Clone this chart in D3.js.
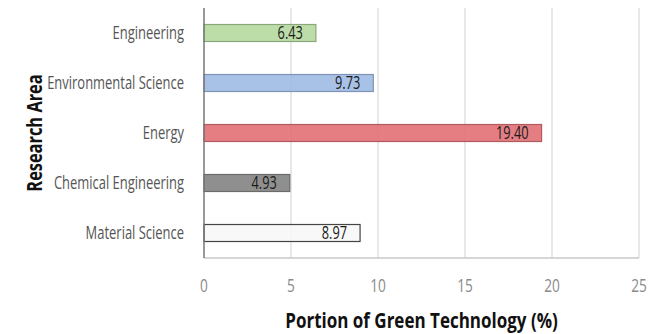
<!DOCTYPE html>
<html>
<head>
<meta charset="utf-8">
<script src="https://cdn.jsdelivr.net/npm/d3@7"></script>
<style>
  html, body { margin: 0; padding: 0; background: #fff; }
  svg { display: block; }
  text { font-family: "Open Sans", "Noto Sans", sans-serif; }
</style>
</head>
<body>
<svg id="chart" width="658" height="334"></svg>
<script>
// Research areas, top to bottom
const categories = ["Engineering", "Environmental Science", "Energy", "Chemical Engineering", "Material Science"];
// Portion of green technology per area (%)
const values = [6.43, 9.73, 19.40, 4.93, 8.97];
const fills = ["#b3d89c", "#9cb8e4", "#e06c72", "#808080", "#f7f7f7"];
const strokes = ["#8aa67a", "#7f93b5", "#b05a5e", "#6a6a6a", "#444444"];
const xTicks = [0, 5, 10, 15, 20, 25];

const svg = d3.select("#chart");
const margin = { left: 204, right: 19, top: 8, bottom: 76 };
const W = 658, H = 334;

const x = d3.scaleLinear().domain([0, 25]).range([margin.left, W - margin.right]);
const y = d3.scaleBand().domain(categories).range([margin.top, H - margin.bottom]).paddingInner(0.66).paddingOuter(0.33);

// condensed text helper: squeezes glyphs horizontally
function label(g, tx, ty, str, opts) {
  return g.append("text")
    .attr("transform", `translate(${tx},${ty})${opts.rotate ? " rotate(" + opts.rotate + ")" : ""} scale(${opts.narrow || 0.72},1)`)
    .attr("text-anchor", opts.anchor || "start")
    .attr("dy", opts.dy == null ? "0.36em" : opts.dy)
    .attr("fill", opts.fill || "#000")
    .style("font-size", opts.size + "px")
    .style("font-weight", opts.weight || "normal")
    .text(str);
}

// vertical gridlines
svg.append("g").selectAll("line").data(xTicks.slice(1)).join("line")
  .attr("x1", d => x(d)).attr("x2", d => x(d))
  .attr("y1", margin.top).attr("y2", H - margin.bottom)
  .attr("stroke", "#d9d9d9").attr("stroke-width", 1.2);

// bottom axis line
svg.append("line")
  .attr("x1", x(0)).attr("x2", x(25))
  .attr("y1", H - margin.bottom).attr("y2", H - margin.bottom)
  .attr("stroke", "#c8c8c8").attr("stroke-width", 1.5);

// x tick labels
const gx = svg.append("g");
xTicks.forEach(d => label(gx, x(d), 285.5, d3.format("d")(d), { anchor: "middle", fill: "#8a8a8a", size: 19 }));

// bars
svg.append("g").selectAll("rect").data(values).join("rect")
  .attr("x", x(0))
  .attr("y", (d, i) => y(categories[i]))
  .attr("width", d => x(d) - x(0))
  .attr("height", y.bandwidth())
  .attr("fill", (d, i) => fills[i])
  .attr("fill-opacity", 0.88)
  .attr("stroke", (d, i) => strokes[i])
  .attr("stroke-width", 1.2);

// value labels
const gv = svg.append("g");
values.forEach((d, i) => label(gv, x(d) - 13, y(categories[i]) + y.bandwidth() / 2, d.toFixed(2),
  { anchor: "end", fill: "#1a1a1a", size: 18, narrow: 0.71 }));

// left axis line
svg.append("line")
  .attr("x1", x(0)).attr("x2", x(0))
  .attr("y1", margin.top).attr("y2", H - margin.bottom)
  .attr("stroke", "#777").attr("stroke-width", 1.5);

// category labels
const gy = svg.append("g");
categories.forEach(c => label(gy, x(0) - 20, y(c) + y.bandwidth() / 2, c,
  { anchor: "end", fill: "#555", size: 18, narrow: 0.72 }));

// axis titles
label(svg, (x(0) + x(25)) / 2, 328, "Portion of Green Technology (%)",
  { anchor: "middle", fill: "#111", size: 21, weight: "bold", narrow: 0.81, dy: 0 });

label(svg, 42, (margin.top + H - margin.bottom) / 2, "Research Area",
  { anchor: "middle", fill: "#111", size: 21, weight: "bold", narrow: 0.78, dy: 0, rotate: -90 });
</script>
</body>
</html>
